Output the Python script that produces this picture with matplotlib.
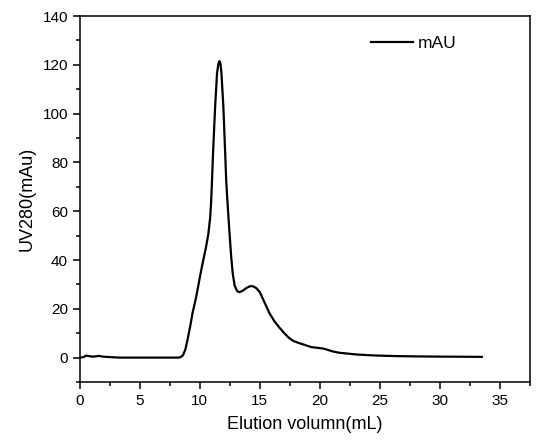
import matplotlib.pyplot as plt
from matplotlib.ticker import MultipleLocator

plt.rcParams['font.family'] = ['Liberation Sans', 'DejaVu Sans']

# ---------------- DATA ---------------- #

volume = [0, 0.3, 0.5, 0.8, 1.05, 1.3, 1.6, 1.9, 2.5, 3.3, 5.0, 7.0, 8.2,
          8.4, 8.6, 8.8, 9.0, 9.2, 9.4, 9.7, 10.0, 10.2, 10.5, 10.7, 10.85,
          10.93, 11.0, 11.1, 11.27, 11.43, 11.55, 11.63, 11.72, 11.8, 11.96,
          12.1, 12.2, 12.35, 12.46, 12.6, 12.74, 12.9, 13.1, 13.3, 13.6,
          13.9, 14.2, 14.45, 14.7, 15.0, 15.4, 15.8, 16.2, 16.6, 17.0, 17.4,
          17.8, 18.3, 18.8, 19.3, 19.8, 20.3, 20.7, 21.1, 21.6, 22.2, 23.0,
          24.0, 25.0, 26.5, 28.0, 30.0, 32.0, 33.5]
mau = [0, 0.2, 0.8, 0.6, 0.4, 0.5, 0.7, 0.4, 0.2, 0.0, 0.0, 0.0, 0.0,
       0.2, 1.0, 3.5, 8, 13, 18.5, 25, 33, 38, 45, 50.5, 57,
       63, 71, 84, 102.7, 116.5, 120.5, 121.5, 120.5, 116.5, 102.7,
       85, 72, 60, 52, 42, 34.4, 29.5, 27.3, 26.8, 27.5,
       28.6, 29.3, 29.2, 28.5, 26.8, 22.5, 18.2, 15, 12.5, 10.2, 8.2,
       6.8, 5.9, 5.1, 4.3, 4.0, 3.7, 3.1, 2.5, 2.0, 1.7, 1.3,
       1.0, 0.8, 0.6, 0.5, 0.4, 0.35, 0.3]

# ---------------- PLOT ---------------- #

fig = plt.figure(figsize=(5.4, 4.46), dpi=100)
ax = fig.add_axes([0.148, 0.1435, 0.833, 0.8205])

ax.plot(volume, mau, color="black", linewidth=1.6, label="mAU")

ax.set_xlim(0, 37.5)
ax.set_ylim(-10, 140)
ax.xaxis.set_major_locator(MultipleLocator(5))
ax.xaxis.set_minor_locator(MultipleLocator(2.5))
ax.yaxis.set_major_locator(MultipleLocator(20))
ax.yaxis.set_minor_locator(MultipleLocator(10))

ax.tick_params(which="major", direction="out", length=5, width=1.1,
               labelsize=11, top=False, right=False)
ax.tick_params(which="minor", direction="out", length=3, width=1.1,
               top=False, right=False)
for s in ax.spines.values():
    s.set_linewidth(1.1)

ax.set_xlabel("Elution volumn(mL)", fontsize=13, labelpad=6)
ax.set_ylabel("UV280(mAu)", fontsize=13, labelpad=5)

ax.legend(loc="center left", frameon=False, fontsize=12.5, handlelength=2.4,
          handletextpad=0.3, borderpad=0, borderaxespad=0,
          bbox_to_anchor=(0.647, 0.926))

fig.savefig("out.png", dpi=100)
